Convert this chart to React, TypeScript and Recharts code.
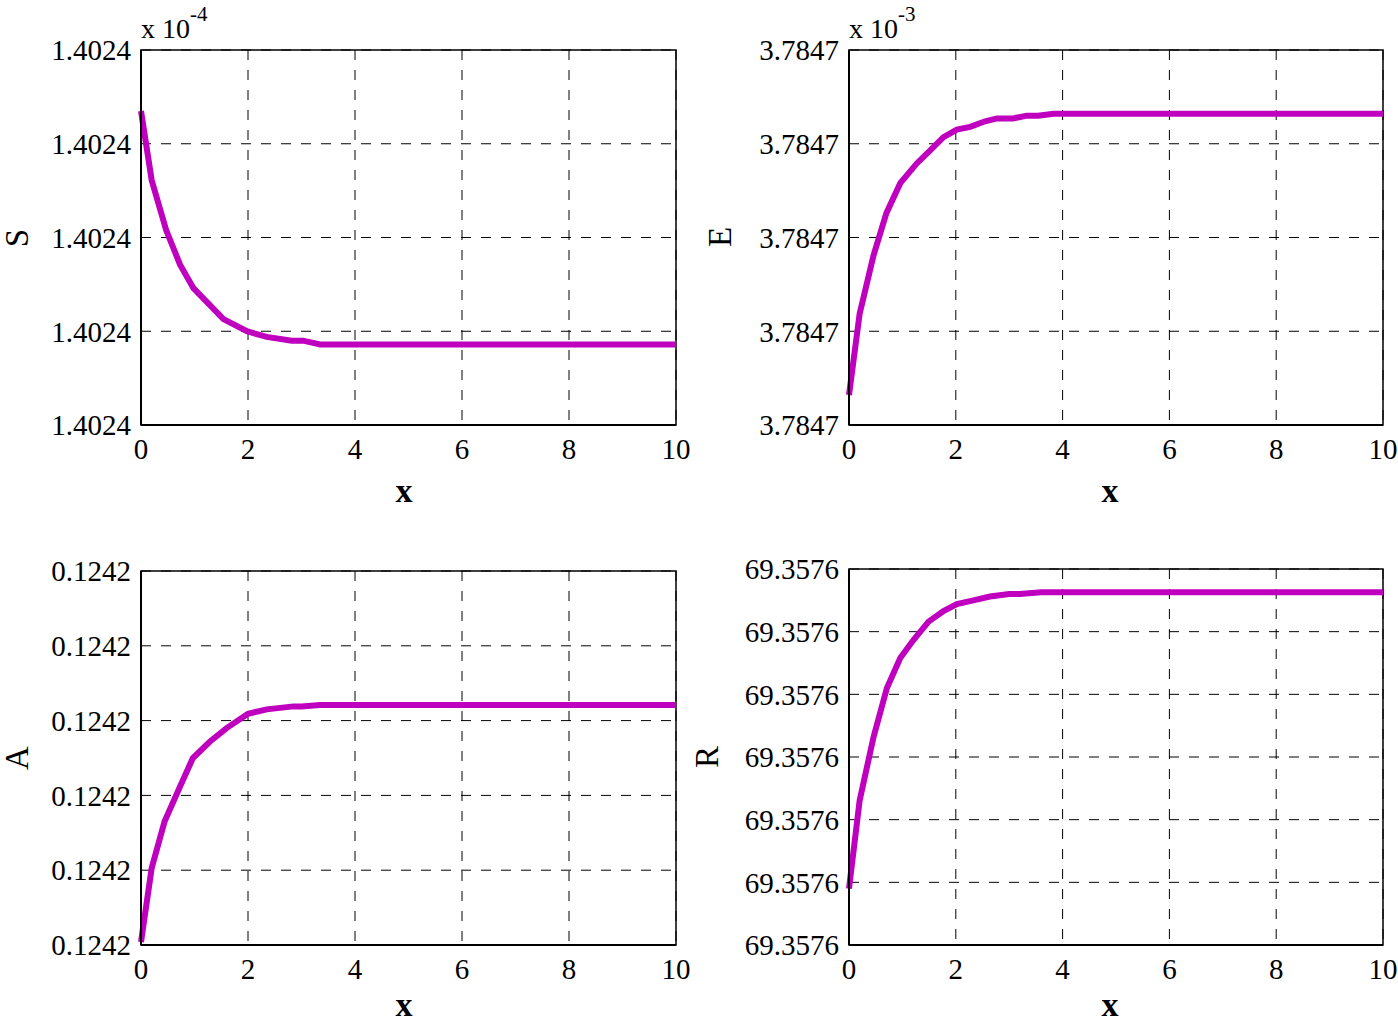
import React from "react";
import { LineChart, Line, XAxis, YAxis, CartesianGrid, ReferenceArea, Label } from "recharts";

// x ticks shared by all panels
const xTicks = [0, 2, 4, 6, 8, 10];

// S panel (values in grid units of the y axis, tick labels all read 1.4024)
const sX = [0, 0.2, 0.47, 0.73, 0.98, 1.54, 1.98, 2.35, 2.82, 3.03, 3.35, 10];
const sY = [3.35, 2.61, 2.08, 1.71, 1.46, 1.13, 1.0, 0.94, 0.9, 0.9, 0.86, 0.86];
const sTicks = [0, 1, 2, 3, 4];
const sTickLabel = "1.4024";

// E panel
const eX = [0, 0.2, 0.46, 0.7, 0.96, 1.27, 1.52, 1.77, 2.02, 2.27, 2.55, 2.77, 3.07, 3.33, 3.54, 3.83, 10];
const eY = [0.32, 1.19, 1.81, 2.26, 2.58, 2.79, 2.93, 3.07, 3.15, 3.18, 3.24, 3.27, 3.27, 3.3, 3.3, 3.32, 3.32];
const eTicks = [0, 1, 2, 3, 4];
const eTickLabel = "3.7847";

// A panel
const aX = [0, 0.2, 0.44, 0.73, 0.97, 1.29, 1.6, 2.0, 2.35, 2.85, 3.0, 3.35, 10];
const aY = [0.04, 1.03, 1.65, 2.12, 2.5, 2.72, 2.9, 3.09, 3.15, 3.19, 3.19, 3.21, 3.21];
const aTicks = [0, 1, 2, 3, 4, 5];
const aTickLabel = "0.1242";

// R panel
const rX = [0, 0.2, 0.46, 0.71, 0.96, 1.21, 1.49, 1.77, 2.02, 2.33, 2.64, 3.0, 3.2, 3.6, 10];
const rY = [0.9, 2.31, 3.32, 4.1, 4.58, 4.87, 5.16, 5.33, 5.44, 5.5, 5.56, 5.6, 5.6, 5.63, 5.63];
const rTicks = [0, 1, 2, 3, 4, 5, 6];
const rTickLabel = "69.3576";

const FONT = "'Liberation Serif', 'Times New Roman', serif";
const LINE_COLOR = "#BF00BF";

type PanelProps = {
  xs: number[];
  ys: number[];
  yTicks: number[];
  tickLabel: string;
  yLabel: string;
  exponent?: string;
  left: number;
  top: number;
  width: number;
  height: number;
  marginTop: number;
  marginRight: number;
  yAxisWidth: number;
  xAxisHeight: number;
  yLabelX: number;
  yLabelY: number;
  xLabelX: number;
  xLabelY: number;
};

function Panel(p: PanelProps) {
  const data = p.xs.map((x, i) => ({ x, y: p.ys[i] }));
  const yMax = p.yTicks[p.yTicks.length - 1];
  const tickStyle = { fontFamily: FONT, fontSize: 29, fill: "#000" };
  return (
    <div style={{ position: "absolute", left: p.left, top: p.top, width: p.width, height: p.height }}>
      <LineChart
        width={p.width}
        height={p.height}
        data={data}
        margin={{ top: p.marginTop, right: p.marginRight, bottom: 0, left: 0 }}
      >
        <CartesianGrid stroke="#000" strokeDasharray="10 10" strokeWidth={1} />
        <XAxis
          dataKey="x"
          type="number"
          domain={[0, 10]}
          ticks={xTicks}
          interval={0}
          height={p.xAxisHeight}
          tickLine={false}
          tickSize={0}
          tickMargin={13}
          axisLine={{ stroke: "#000", strokeWidth: 2 }}
          tick={tickStyle}
        >
          <Label
            content={() => (
              <text
                x={p.xLabelX}
                y={p.xLabelY}
                textAnchor="middle"
                fontFamily={FONT}
                fontWeight="bold"
                fontSize={34}
                fill="#000"
              >
                x
              </text>
            )}
          />
        </XAxis>
        <YAxis
          type="number"
          domain={[0, yMax]}
          ticks={p.yTicks}
          interval={0}
          width={p.yAxisWidth}
          tickLine={false}
          tickSize={0}
          tickMargin={10}
          axisLine={{ stroke: "#000", strokeWidth: 2 }}
          tick={tickStyle}
          tickFormatter={() => p.tickLabel}
        >
          <Label
            content={() => (
              <g>
                <text
                  x={p.yLabelX}
                  y={p.yLabelY}
                  transform={`rotate(-90 ${p.yLabelX} ${p.yLabelY})`}
                  textAnchor="middle"
                  dominantBaseline="central"
                  fontFamily={FONT}
                  fontSize={33}
                  fill="#000"
                >
                  {p.yLabel}
                </text>
                {p.exponent ? (
                  <text x={p.yAxisWidth} y={p.marginTop - 12} fontFamily={FONT} fontSize={28} fill="#000">
                    x 10
                    <tspan dy={-17} fontSize={21}>
                      {p.exponent}
                    </tspan>
                  </text>
                ) : null}
              </g>
            )}
          />
        </YAxis>
        <ReferenceArea x1={0} x2={10} y1={0} y2={yMax} fill="none" stroke="#000" strokeWidth={1.5} />
        <Line
          type="linear"
          dataKey="y"
          stroke={LINE_COLOR}
          strokeWidth={6}
          dot={false}
          isAnimationActive={false}
        />
      </LineChart>
    </div>
  );
}

export default function App() {
  return (
    <div style={{ position: "absolute", left: 0, top: 0, width: 1398, height: 1024, background: "#fff" }}>
      <Panel
        xs={sX}
        ys={sY}
        yTicks={sTicks}
        tickLabel={sTickLabel}
        yLabel="S"
        exponent="-4"
        left={0}
        top={0}
        width={700}
        height={520}
        marginTop={50}
        marginRight={24}
        yAxisWidth={141}
        xAxisHeight={95}
        yLabelX={17}
        yLabelY={238}
        xLabelX={404}
        xLabelY={502}
      />
      <Panel
        xs={eX}
        ys={eY}
        yTicks={eTicks}
        tickLabel={eTickLabel}
        yLabel="E"
        exponent="-3"
        left={680}
        top={0}
        width={718}
        height={520}
        marginTop={50}
        marginRight={15}
        yAxisWidth={169}
        xAxisHeight={95}
        yLabelX={40}
        yLabelY={237}
        xLabelX={430}
        xLabelY={502}
      />
      <Panel
        xs={aX}
        ys={aY}
        yTicks={aTicks}
        tickLabel={aTickLabel}
        yLabel="A"
        left={0}
        top={520}
        width={700}
        height={504}
        marginTop={51}
        marginRight={24}
        yAxisWidth={141}
        xAxisHeight={79}
        yLabelX={17}
        yLabelY={238}
        xLabelX={404}
        xLabelY={496}
      />
      <Panel
        xs={rX}
        ys={rY}
        yTicks={rTicks}
        tickLabel={rTickLabel}
        yLabel="R"
        left={680}
        top={520}
        width={718}
        height={504}
        marginTop={49}
        marginRight={15}
        yAxisWidth={169}
        xAxisHeight={79}
        yLabelX={27}
        yLabelY={237}
        xLabelX={430}
        xLabelY={496}
      />
    </div>
  );
}
